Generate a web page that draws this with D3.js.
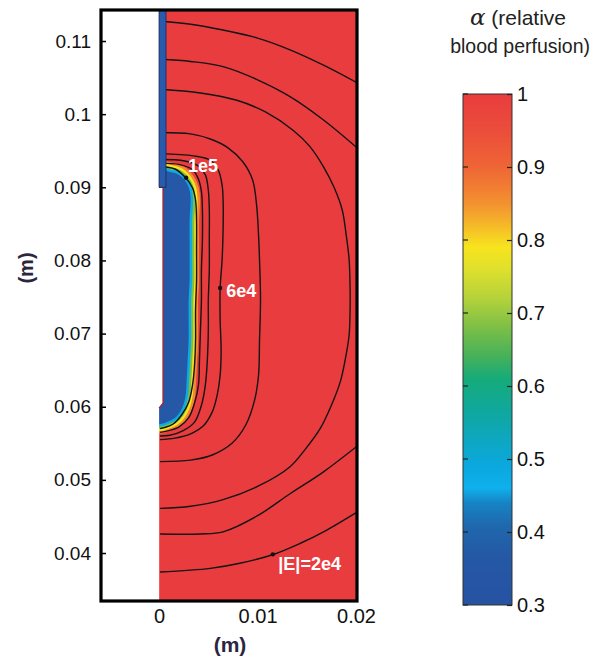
<!DOCTYPE html>
<html><head><meta charset="utf-8">
<script src="https://cdn.jsdelivr.net/npm/d3@7"></script>
<style>body{margin:0;background:#fff}</style>
</head><body><svg id="c" width="603" height="663"></svg>
<script>
// ---------- data ----------
const xDomain = [-0.0059, 0.0201];
const yDomain = [0.03344, 0.11424];
const xTicks = [0, 0.01, 0.02];
const xTickLabels = ["0", "0.01", "0.02"];
const yTicks = [0.04, 0.05, 0.06, 0.07, 0.08, 0.09, 0.1, 0.11];
const yTickLabels = ["0.04", "0.05", "0.06", "0.07", "0.08", "0.09", "0.1", "0.11"];
const cbTicks = [0.3, 0.4, 0.5, 0.6, 0.7, 0.8, 0.9, 1];
const cbTickLabels = ["0.3", "0.4", "0.5", "0.6", "0.7", "0.8", "0.9", "1"];
const cmapStops  = [0.30, 0.37, 0.41, 0.44, 0.46, 0.49, 0.53, 0.57, 0.61, 0.64, 0.68, 0.72, 0.76, 0.79, 0.82, 0.85, 0.90, 0.95, 1.00];
const cmapColors = ["#2652a2","#2459a6","#1f69ae","#1684c5","#0fb0ec","#0aa8df","#0ea7bd","#10a89a","#16ab7a","#45b15a","#7cbf46","#b4d23a","#dfe02c","#f7e41e","#f5b928","#f39130","#ef6535","#eb4d3b","#e93c3e"];

// alpha field: ablated (alpha = 0.3) zone boundary, and band levels around it
const ablatedZone = [[-0.0004,0.0922],[0.0011,0.0921],[0.0019,0.0918],[0.0024,0.0913],[0.0028,0.0906],[0.0031,0.0896],[0.0032,0.0883],[0.0031,0.0855],[0.0031,0.0828],[0.0031,0.0801],[0.0031,0.0773],[0.0030,0.0746],[0.0030,0.0719],[0.0030,0.0691],[0.0029,0.0664],[0.0028,0.0637],[0.0027,0.0616],[0.0024,0.0600],[0.0018,0.0587],[0.0011,0.0581],[-0.0004,0.0578]];
const bandLevels = [0.86, 0.79, 0.68, 0.48];
const zoneColor = "#2658a8";

// |E| contour lines
const c1Top = [[0.0001,0.1127],[0.0032,0.1123],[0.0065,0.1115],[0.0100,0.1104],[0.0133,0.1088],[0.0167,0.1067],[0.0201,0.1043]];
const c1Bottom = [[0.0001,0.0374],[0.0052,0.0379],[0.0082,0.0386],[0.0116,0.0398],[0.0143,0.0413],[0.0167,0.0429],[0.0201,0.0456]];
const c2Top = [[0.0001,0.1075],[0.0032,0.1072],[0.0065,0.1065],[0.0100,0.1047],[0.0133,0.1024],[0.0167,0.0992],[0.0201,0.0954]];
const c2Bottom = [[0.0001,0.0426],[0.0042,0.0426],[0.0065,0.0429],[0.0100,0.0451],[0.0133,0.0481],[0.0167,0.0511],[0.0201,0.0546]];
const c3 = [[0.0001,0.1034],[0.0042,0.1029],[0.0079,0.1019],[0.0108,0.1003],[0.0136,0.0978],[0.0153,0.0956],[0.0167,0.0928],[0.0178,0.0899],[0.0186,0.0869],[0.0190,0.0835],[0.0193,0.0801],[0.0194,0.0760],[0.0194,0.0736],[0.0193,0.0698],[0.0189,0.0664],[0.0184,0.0634],[0.0175,0.0602],[0.0164,0.0571],[0.0148,0.0541],[0.0133,0.0518],[0.0103,0.0493],[0.0065,0.0473],[0.0032,0.0464],[0.0001,0.0461]];
const c4 = [[0.0001,0.0975],[0.0032,0.0973],[0.0052,0.0966],[0.0070,0.0954],[0.0085,0.0935],[0.0095,0.0910],[0.0099,0.0876],[0.0101,0.0835],[0.0102,0.0801],[0.0103,0.0746],[0.0102,0.0691],[0.0101,0.0643],[0.0097,0.0609],[0.0088,0.0575],[0.0074,0.0550],[0.0054,0.0534],[0.0032,0.0527],[0.0001,0.0525]];
const c5 = [[0.0001,0.0946],[0.0035,0.0943],[0.0052,0.0937],[0.0060,0.0924],[0.0064,0.0903],[0.0065,0.0883],[0.0065,0.0842],[0.0064,0.0801],[0.0062,0.0762],[0.0062,0.0719],[0.0063,0.0678],[0.0062,0.0643],[0.0059,0.0616],[0.0054,0.0593],[0.0045,0.0574],[0.0032,0.0563],[0.0016,0.0557],[0.0001,0.0555]];
const c6 = [[0.0001,0.0938],[0.0026,0.0936],[0.0040,0.0929],[0.0047,0.0917],[0.0050,0.0896],[0.0051,0.0869],[0.0051,0.0828],[0.0051,0.0787],[0.0050,0.0746],[0.0050,0.0705],[0.0049,0.0664],[0.0047,0.0630],[0.0043,0.0602],[0.0036,0.0579],[0.0024,0.0567],[0.0011,0.0561],[0.0001,0.0560]];
const c7 = [[0.0001,0.0933],[0.0021,0.0931],[0.0034,0.0924],[0.0040,0.0911],[0.0043,0.0894],[0.0044,0.0869],[0.0044,0.0828],[0.0043,0.0787],[0.0043,0.0746],[0.0042,0.0705],[0.0041,0.0664],[0.0040,0.0630],[0.0036,0.0605],[0.0030,0.0585],[0.0020,0.0572],[0.0009,0.0567],[0.0001,0.0565]];
const c8 = [[0.0001,0.0928],[0.0016,0.0925],[0.0027,0.0913],[0.0034,0.0899],[0.0037,0.0883],[0.0038,0.0855],[0.0038,0.0814],[0.0038,0.0773],[0.0037,0.0732],[0.0037,0.0691],[0.0036,0.0657],[0.0034,0.0630],[0.0030,0.0606],[0.0023,0.0589],[0.0014,0.0576],[0.0004,0.0571],[0.0001,0.0570]];

const contourLabels = ["1e5", "6e4", "|E|=2e4"];
const contourLabelPoints = [[0.00274, 0.09131], [0.00620, 0.07623], [0.01155, 0.03982]];

// probe geometry
const probeShaft = [[0, 0.1150], [0.0007, 0.1150], [0.0007, 0.0900], [0, 0.0900]];
const electrode = [[-0.0003, 0.0900], [0.0004, 0.0900], [0.0004, 0.0605], [0, 0.0598], [-0.0003, 0.0598]];
const electrodeEdge = [[0, 0.0900], [0.0004, 0.0900], [0.0004, 0.0605], [0, 0.0598]];

// ---------- drawing ----------
const FONT = "'Liberation Sans', Arial, Helvetica, sans-serif";
const svg = d3.select("#c");
const x = d3.scaleLinear().domain(xDomain).range([101, 357]);
const y = d3.scaleLinear().domain(yDomain).range([601, 10]);
const cmap = d3.scaleLinear().domain(cmapStops).range(cmapColors).interpolate(d3.interpolateRgb);

const defs = svg.append("defs");
defs.append("clipPath").attr("id", "plotclip").append("rect")
  .attr("x", x(xDomain[0])).attr("y", y(yDomain[1]))
  .attr("width", x(xDomain[1]) - x(xDomain[0])).attr("height", y(yDomain[0]) - y(yDomain[1]));

const g = svg.append("g").attr("clip-path", "url(#plotclip)");

// tissue (alpha = 1)
g.append("rect")
  .attr("x", x(0)).attr("y", y(yDomain[1]))
  .attr("width", x(xDomain[1]) - x(0)).attr("height", y(yDomain[0]) - y(yDomain[1]))
  .attr("fill", cmap(1));

// alpha bands around the ablated zone
const closed = d3.line().x(d => x(d[0])).y(d => y(d[1])).curve(d3.curveCatmullRomClosed.alpha(0.5));
const bandWidths = [19, 14, 9.5, 5];
bandLevels.forEach((lv, i) => {
  g.append("path").attr("d", closed(ablatedZone))
    .attr("fill", "none").attr("stroke", cmap(lv))
    .attr("stroke-width", bandWidths[i]).attr("stroke-linejoin", "round");
});
g.append("path").attr("d", closed(ablatedZone)).attr("fill", zoneColor);

// contour lines
const line = d3.line().x(d => x(d[0])).y(d => y(d[1])).curve(d3.curveCatmullRom.alpha(0.5));
[c1Top, c1Bottom, c2Top, c2Bottom, c3, c4, c5, c6, c7, c8].forEach(c => {
  g.append("path").attr("d", line(c)).attr("fill", "none")
    .attr("stroke", "#141414").attr("stroke-width", 1.4);
});

// probe
g.append("rect").attr("x", x(xDomain[0])).attr("y", y(yDomain[1]))
  .attr("width", x(0) - x(xDomain[0])).attr("height", y(yDomain[0]) - y(yDomain[1]))
  .attr("fill", "#ffffff");
const poly = d3.line().x(d => x(d[0])).y(d => y(d[1]));
g.append("path").attr("d", poly(electrode) + "Z").attr("fill", "#ffffff");
g.append("path").attr("d", poly(electrodeEdge)).attr("fill", "none")
  .attr("stroke", "#a8262a").attr("stroke-width", 1.3);
g.append("path").attr("d", poly(probeShaft) + "Z").attr("fill", "#2a5aab")
  .attr("stroke", "#1b2f60").attr("stroke-width", 0.9);

// labels on contours
g.selectAll("circle.lbl").data(contourLabelPoints).join("circle")
  .attr("cx", d => x(d[0])).attr("cy", d => y(d[1])).attr("r", 2.2).attr("fill", "#111");
const labelOffsets = [[2, -5.5], [6, 9], [5.5, 15.5]];
g.selectAll("text.lbl").data(contourLabels).join("text")
  .attr("x", (d, i) => x(contourLabelPoints[i][0]) + labelOffsets[i][0])
  .attr("y", (d, i) => y(contourLabelPoints[i][1]) + labelOffsets[i][1])
  .attr("fill", "#ffffff").attr("font-family", FONT).attr("font-weight", "bold")
  .attr("font-size", 18).text(d => d);

// frame
svg.append("rect").attr("x", x(xDomain[0])).attr("y", y(yDomain[1]))
  .attr("width", x(xDomain[1]) - x(xDomain[0])).attr("height", y(yDomain[0]) - y(yDomain[1]))
  .attr("fill", "none").attr("stroke", "#000").attr("stroke-width", 3.2);

// axes
const ya = svg.append("g").attr("transform", `translate(${x(xDomain[0])},0)`)
  .call(d3.axisLeft(y).tickValues(yTicks).tickFormat((d, i) => yTickLabels[i]).tickSize(-5).tickPadding(10));
ya.select(".domain").remove();
ya.selectAll("line").attr("stroke", "#000").attr("stroke-width", 1.5);
ya.selectAll("text").attr("font-family", FONT).attr("font-size", 19).attr("fill", "#111");

const xa = svg.append("g").attr("transform", `translate(0,${y(yDomain[0])})`)
  .call(d3.axisBottom(x).tickValues(xTicks).tickFormat((d, i) => xTickLabels[i]).tickSize(0).tickPadding(8));
xa.select(".domain").remove();
xa.selectAll("text").attr("font-family", FONT).attr("font-size", 20).attr("fill", "#111");

svg.append("text").attr("x", 230).attr("y", 652).attr("text-anchor", "middle")
  .attr("font-family", FONT).attr("font-weight", "bold").attr("font-size", 21)
  .attr("fill", "#2b2540").text("(m)");
svg.append("text").attr("transform", "translate(26,268) rotate(-90)").attr("dy", "0.35em")
  .attr("text-anchor", "middle").attr("font-family", FONT).attr("font-weight", "bold")
  .attr("font-size", 20).attr("fill", "#2b2540").text("(m)");

// colorbar
const cy = d3.scaleLinear().domain([0.3, 1]).range([605, 94]);
const grad = defs.append("linearGradient").attr("id", "cbgrad")
  .attr("x1", 0).attr("y1", 1).attr("x2", 0).attr("y2", 0);
cmapStops.forEach((s, i) => grad.append("stop").attr("offset", (s - 0.3) / 0.7).attr("stop-color", cmapColors[i]));
const cbX0 = 463, cbX1 = 512;
svg.append("rect").attr("x", cbX0).attr("y", cy(1)).attr("width", cbX1 - cbX0)
  .attr("height", cy(0.3) - cy(1)).attr("fill", "url(#cbgrad)")
  .attr("stroke", "#333").attr("stroke-width", 1);
svg.selectAll("line.cbl").data(cbTicks).join("line")
  .attr("x1", cbX0).attr("x2", cbX0 + 5).attr("y1", d => cy(d)).attr("y2", d => cy(d))
  .attr("stroke", "#222").attr("stroke-width", 1.2);
const ca = svg.append("g").attr("transform", `translate(${cbX1},0)`)
  .call(d3.axisRight(cy).tickValues(cbTicks).tickFormat((d, i) => cbTickLabels[i]).tickSize(-5).tickPadding(5));
ca.select(".domain").remove();
ca.selectAll("line").attr("stroke", "#222").attr("stroke-width", 1.2);
ca.selectAll("text").attr("font-family", FONT).attr("font-size", 20).attr("fill", "#111");

const t1 = svg.append("text").attr("x", 518).attr("y", 25).attr("text-anchor", "middle")
  .attr("font-family", FONT).attr("font-size", 21).attr("fill", "#222");
t1.append("tspan").attr("font-family", "'DejaVu Serif', 'Liberation Serif', serif")
  .attr("font-style", "italic").attr("font-size", 23).text("α");
t1.append("tspan").text(" (relative");
svg.append("text").attr("x", 590).attr("y", 53).attr("text-anchor", "end")
  .attr("font-family", FONT).attr("font-size", 19.5).attr("fill", "#222").text("blood perfusion)");
</script>
</body></html>
